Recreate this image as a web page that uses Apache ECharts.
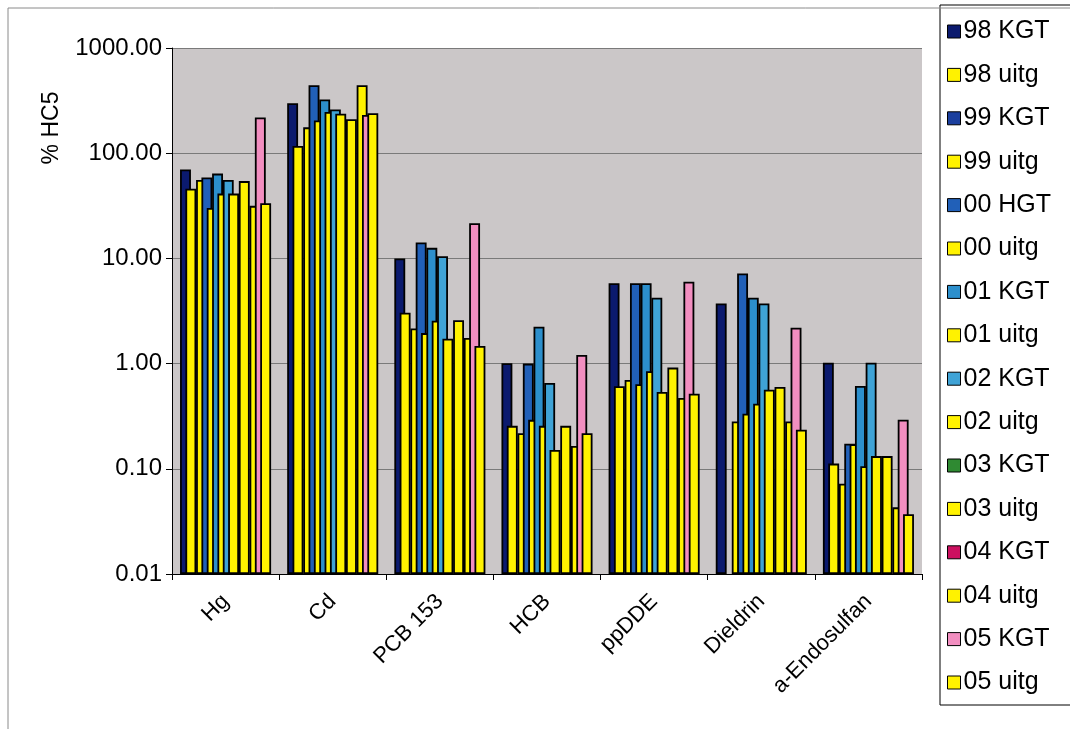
<!DOCTYPE html>
<html>
<head>
<meta charset="utf-8">
<script src="https://cdn.jsdelivr.net/npm/echarts@6/dist/echarts.min.js"></script>
<style>
    html, body { margin: 0; padding: 0; background: #fff; }
    #chart { width: 1070px; height: 729px; }
</style>
</head>
<body>
<div id="chart"></div>
<script>
// data (log scale, % HC5)
var categories = ['Hg', 'Cd', 'PCB 153', 'HCB', 'ppDDE', 'Dieldrin', 'a-Endosulfan'];
var seriesNames = ['98 KGT', '98 uitg', '99 KGT', '99 uitg', '00 HGT', '00 uitg', '01 KGT', '01 uitg',
    '02 KGT', '02 uitg', '03 KGT', '03 uitg', '04 KGT', '04 uitg', '05 KGT', '05 uitg'];
var yTicks = [0.01, 0.1, 1, 10, 100, 1000];

var kgt98 = [70, 299, 10, 1.01, 5.8, 3.73, 1.02];
var uitg98 = [46, 117, 3.05, 0.256, 0.61, '-', 0.112];
var kgt99 = ['-', '-', '-', '-', '-', '-', '-'];
var uitg99 = [55.6, 176, 2.16, 0.218, 0.70, 0.282, 0.072];
var hgt00 = [58.7, 443, 14.2, 1.0, 5.8, 7.2, 0.173];
var uitg00 = [30.2, 205, 1.95, 0.292, 0.636, 0.334, 0.171];
var kgt01 = [64, 324, 12.6, 2.24, 5.8, 4.22, 0.612];
var uitg01 = [41.3, 246, 2.56, 0.256, 0.845, 0.416, 0.106];
var kgt02 = [55.6, 260, 10.5, 0.653, 4.22, 3.73, 1.02];
var uitg02 = [41.3, 237, 1.72, 0.151, 0.537, 0.565, 0.132];
var kgt03 = ['-', '-', '-', '-', '-', '-', '-'];
var uitg03 = [54.3, 210, 2.58, 0.256, 0.916, 0.6, 0.132];
var kgt04 = ['-', '-', '-', '-', '-', '-', '-'];
var uitg04 = [31.6, 443, 1.75, 0.165, 0.471, 0.282, 0.043];
var kgt05 = [219, 231, 21.6, 1.21, 6.0, 2.19, 0.293];
var uitg05 = [33.4, 240, 1.47, 0.218, 0.518, 0.235, 0.037];

var seriesData = [kgt98, uitg98, kgt99, uitg99, hgt00, uitg00, kgt01, uitg01,
    kgt02, uitg02, kgt03, uitg03, kgt04, uitg04, kgt05, uitg05];
var yellow = '#fff200';
var colors = ['#0b1a6e', yellow, '#1b3f9e', yellow, '#2160b8', yellow, '#2c8fcc', yellow,
    '#3fa3d6', yellow, '#2f8a32', yellow, '#cc1060', yellow, '#f28ec0', yellow];

var font = "'Liberation Sans', Arial, sans-serif";

var series = seriesNames.map(function (name, i) {
    return {
        name: name,
        type: 'bar',
        data: seriesData[i],
        barGap: '-51%',
        barCategoryGap: '15%',
        itemStyle: {
            color: colors[i],
            borderColor: '#000',
            borderWidth: 1.8
        }
    };
});

var myChart = echarts.init(document.getElementById('chart'));
var option = {
    backgroundColor: '#fff',
    animation: false,
    textStyle: {
        fontFamily: font,
        color: '#000'
    },
    grid: {
        left: 172,
        right: 148,
        top: 48,
        bottom: 155,
        show: true,
        backgroundColor: '#cbc7c8',
        borderWidth: 0
    },
    legend: {
        orient: 'vertical',
        left: 942,
        top: 14,
        itemWidth: 13,
        itemHeight: 13,
        itemGap: 18.4,
        icon: 'rect',
        data: seriesNames,
        itemStyle: {
            borderColor: '#000',
            borderWidth: 1
        },
        textStyle: {
            fontFamily: font,
            fontSize: 25,
            lineHeight: 25,
            color: '#000',
            padding: [0, 0, 0, -2]
        }
    },
    xAxis: {
        type: 'category',
        data: categories,
        axisLine: { lineStyle: { color: '#000', width: 1 } },
        axisTick: { show: true, length: 6, lineStyle: { color: '#000' } },
        axisLabel: {
            rotate: 45,
            margin: 24,
            fontSize: 22,
            color: '#000',
            fontFamily: font
        }
    },
    yAxis: {
        type: 'log',
        logBase: 10,
        min: yTicks[0],
        max: yTicks[yTicks.length - 1],
        startValue: yTicks[0],
        axisLine: { show: true, lineStyle: { color: '#000', width: 1 } },
        axisTick: { show: true, length: 6, lineStyle: { color: '#000' } },
        axisLabel: {
            fontSize: 24,
            margin: 10,
            color: '#000',
            fontFamily: font,
            formatter: function (v) { return v.toFixed(2); }
        },
        splitLine: { lineStyle: { color: '#7a7a7a', width: 1 } }
    },
    graphic: [{
        type: 'rect',
        shape: { x: 8, y: 8, width: 1080, height: 740 },
        style: { fill: null, stroke: '#8a8a8a', lineWidth: 1 },
        silent: true
    }, {
        type: 'rect',
        shape: { x: 940, y: 5, width: 140, height: 700 },
        style: { fill: '#fff', stroke: '#000', lineWidth: 1 },
        z: -1,
        silent: true
    }, {
        type: 'text',
        x: 52,
        y: 128,
        rotation: Math.PI / 2,
        style: {
            text: '% HC5',
            font: '23px ' + font,
            fill: '#000',
            align: 'center',
            verticalAlign: 'middle'
        }
    }],
    series: series
};
myChart.setOption(option);
</script>
</body>
</html>
